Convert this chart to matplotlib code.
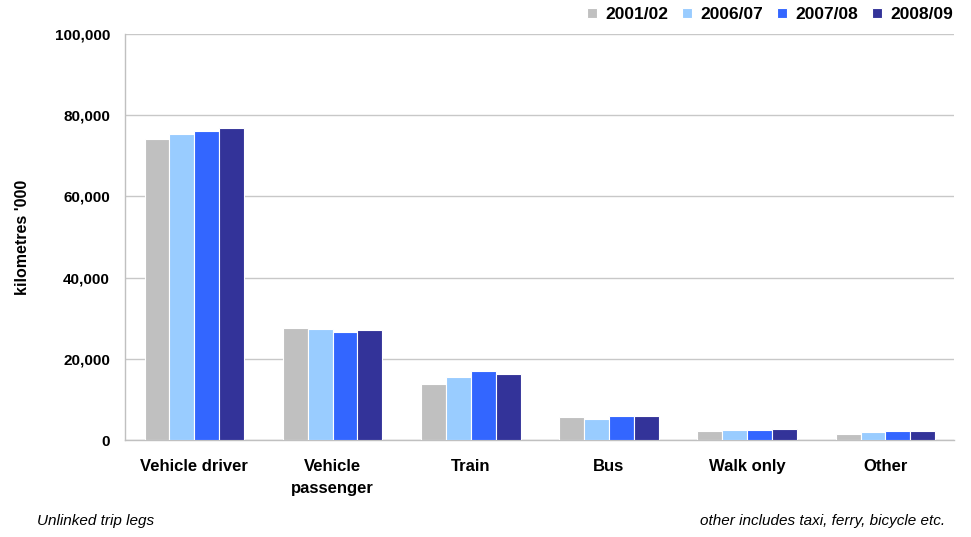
import matplotlib
matplotlib.use("Agg")
import matplotlib.pyplot as plt
import numpy as np
from matplotlib.ticker import FuncFormatter

categories = ["Vehicle driver", "Vehicle\npassenger", "Train", "Bus", "Walk only", "Other"]
series_names = ["2001/02", "2006/07", "2007/08", "2008/09"]
v2001 = [74100, 27600, 13900, 5600, 2200, 1500]
v2006 = [75400, 27300, 15500, 5250, 2550, 1900]
v2007 = [76100, 26600, 16900, 5900, 2550, 2200]
v2008 = [76800, 27000, 16300, 5900, 2600, 2300]
colors = ["#c0c0c0", "#99ccff", "#3366ff", "#333399"]

plt.rcParams["font.family"] = ["Liberation Sans", "DejaVu Sans"]

fig = plt.figure(figsize=(9.71, 5.37), dpi=100)
ax = fig.add_axes([0.129, 0.1806, 0.854, 0.7561])

x = np.arange(len(categories))
bw = 0.18
for i, (vals, name) in enumerate(zip([v2001, v2006, v2007, v2008], series_names)):
    ax.bar(x + (i - 1.5) * bw, vals, bw, color=colors[i], label=name,
           edgecolor="white", linewidth=0.8, zorder=3)

ax.set_xlim(-0.5, len(categories) - 0.5)
ax.set_ylim(0, 100000)
ax.set_yticks(np.arange(0, 100001, 20000))
ax.yaxis.set_major_formatter(FuncFormatter(lambda v, p: f"{int(v):,}"))
ax.grid(axis="y", color="#c8c8c8", linewidth=1, zorder=0)
ax.set_xticks(x)
ax.set_xticklabels(categories, fontsize=12, fontweight="bold", linespacing=1.55)
for lab in ax.get_yticklabels():
    lab.set_fontweight("bold")
    lab.set_fontsize(11)
ax.tick_params(axis="x", length=0, pad=14)
ax.tick_params(axis="y", length=0, pad=11)
for s in ["top", "right"]:
    ax.spines[s].set_visible(False)
for s in ["left", "bottom"]:
    ax.spines[s].set_color("#c0c0c0")
    ax.spines[s].set_linewidth(1)

ax.set_ylabel("kilometres '000", fontsize=11.5, fontweight="bold", labelpad=18)

leg = fig.legend(loc="upper right", bbox_to_anchor=(0.9815, 0.987), ncol=4, frameon=False,
                 prop={"weight": "bold", "size": 12.5}, handlelength=0.55, handleheight=0.55,
                 handletextpad=0.5, columnspacing=0.8, borderpad=0, borderaxespad=0)

fig.text(0.038, 0.0298, "Unlinked trip legs", fontsize=11, style="italic", va="center")
fig.text(0.973, 0.0298, "other includes taxi, ferry, bicycle etc.", fontsize=11,
         style="italic", ha="right", va="center")

fig.savefig("out.png", dpi=100)
